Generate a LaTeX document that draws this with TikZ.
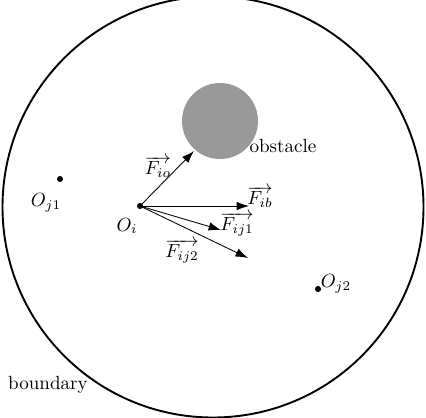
\documentclass[tikz,border=0pt]{standalone}
\usetikzlibrary{arrows.meta}
\begin{document}
\begin{tikzpicture}[x=0.5246pt,y=-0.5246pt,
  force/.style={-{Latex[length=6.5pt,width=4.5pt]},line width=0.45pt},
  pt/.style={circle,fill=black,inner sep=0pt,minimum size=3.2pt},
  lbl/.style={inner sep=0pt}]
\useasboundingbox (0,0) rectangle (426,417);
\draw[line width=1pt] (213,207) circle (210.5);
\node[circle,fill=black!40,minimum size=76*0.5246pt,inner sep=0pt] (obs) at (220,121) {};
\node[lbl] (obslbl) at (283,146) {obstacle};
\node[pt] (oi) at (140,206) {};
\node[lbl] at (127,226) {$O_i$};
\node[pt] (oj1) at (60,179) {};
\node[lbl] at (46,203) {$O_{j1}$};
\node[pt] (oj2) at (318,289) {};
\node[lbl] at (336,284) {$O_{j2}$};
\coordinate (tio) at (194,151);
\coordinate (tib) at (249,206);
\coordinate (tij1) at (221,230);
\coordinate (tij2) at (248,258);
\draw[force] (oi.center) -- (tio);
\draw[force] (oi.center) -- (tib);
\draw[force] (oi.center) -- (tij1);
\draw[force] (oi.center) -- (tij2);
\node[lbl] at (158,167) {$\overrightarrow{F_{io}}$};
\node[lbl] at (260,197) {$\overrightarrow{F_{ib}}$};
\node[lbl] at (237,224) {$\overrightarrow{F_{ij1}}$};
\node[lbl] at (182,251) {$\overrightarrow{F_{ij2}}$};
\node[lbl] (bnd) at (48,385) {boundary};
\end{tikzpicture}
\end{document}
